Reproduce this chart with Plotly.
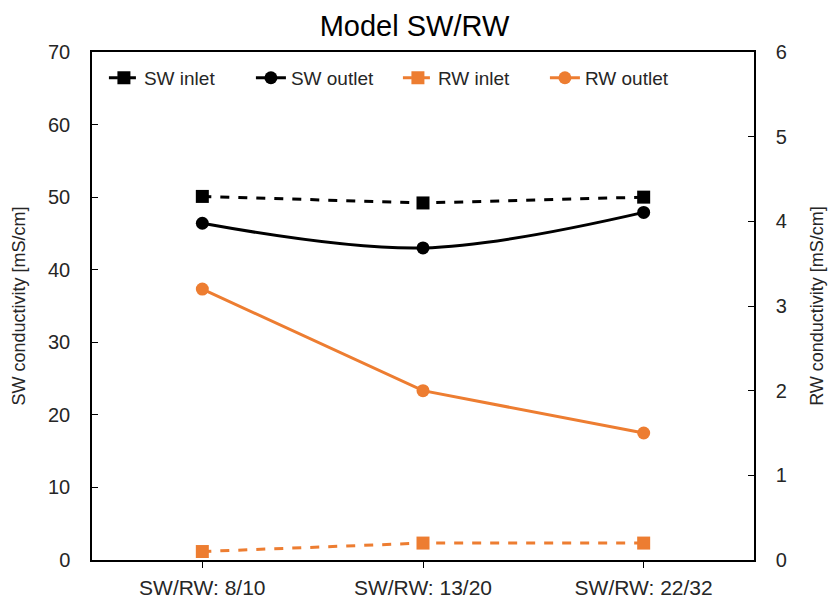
import plotly.graph_objects as go

categories = ["SW/RW: 8/10", "SW/RW: 13/20", "SW/RW: 22/32"]
sw_inlet = [50.1, 49.2, 50.0]
sw_outlet = [46.4, 43.0, 47.9]
rw_inlet = [0.1, 0.2, 0.2]
rw_outlet = [3.2, 2.0, 1.5]

orange = "#ED7D31"
font = "Liberation Sans, Arial, sans-serif"
txt = "#262626"

fig = go.Figure()
fig.add_trace(go.Scatter(x=categories, y=sw_inlet, name="SW inlet", mode="lines+markers",
                         line=dict(color="black", width=3, dash="dash"),
                         marker=dict(symbol="square", size=13, color="black")))
fig.add_trace(go.Scatter(x=categories, y=sw_outlet, name="SW outlet", mode="lines+markers",
                         line=dict(color="black", width=3, shape="spline"),
                         marker=dict(symbol="circle", size=13, color="black")))
fig.add_trace(go.Scatter(x=categories, y=rw_inlet, name="RW inlet", mode="lines+markers", yaxis="y2",
                         line=dict(color=orange, width=3, dash="dash"),
                         marker=dict(symbol="square", size=13, color=orange)))
fig.add_trace(go.Scatter(x=categories, y=rw_outlet, name="RW outlet", mode="lines+markers", yaxis="y2",
                         line=dict(color=orange, width=3),
                         marker=dict(symbol="circle", size=13, color=orange)))

fig.update_layout(
    width=829, height=598,
    margin=dict(l=92, r=75, t=52, b=38),
    paper_bgcolor="white", plot_bgcolor="white",
    font=dict(family=font, size=18, color=txt),
    title=dict(text="Model SW/RW", x=0.5, xanchor="center", y=0.956, yanchor="middle",
               font=dict(size=29, color="black")),
    showlegend=True,
    legend=dict(orientation="h", x=0.018, y=0.949, xanchor="left", yanchor="middle",
                font=dict(size=19, color=txt), bgcolor="rgba(0,0,0,0)",
                entrywidth=102, entrywidthmode="pixels", tracegroupgap=0),
    xaxis=dict(type="category", showline=True, linecolor="black", linewidth=1.5, mirror=True,
               ticks="outside", ticklen=6, tickcolor="black", showgrid=False, automargin=False,
               ticklabelstandoff=2,
               tickfont=dict(size=21, color=txt), range=[-0.5, 2.5]),
    yaxis=dict(range=[0, 70], dtick=10, showline=True, linecolor="black", linewidth=1.5,
               ticks="inside", ticklen=6, tickcolor="black", showgrid=False, zeroline=False,
               automargin=False, ticklabelstandoff=16,
               title=dict(text="SW conductivity [mS/cm]", font=dict(size=18, color=txt), standoff=18),
               tickfont=dict(size=20, color=txt)),
    yaxis2=dict(range=[0, 6], dtick=1, overlaying="y", side="right", showline=True, linecolor="black",
                linewidth=1.5, ticks="inside", ticklen=6, tickcolor="black", showgrid=False, zeroline=False,
                automargin=False, ticklabelstandoff=16,
                title=dict(text="RW conductivity [mS/cm]", font=dict(size=18, color=txt), standoff=25),
                tickfont=dict(size=20, color=txt)),
)

fig.write_html("out.html", config={"displayModeBar": False},
               post_script="document.body.style.margin='0';")
